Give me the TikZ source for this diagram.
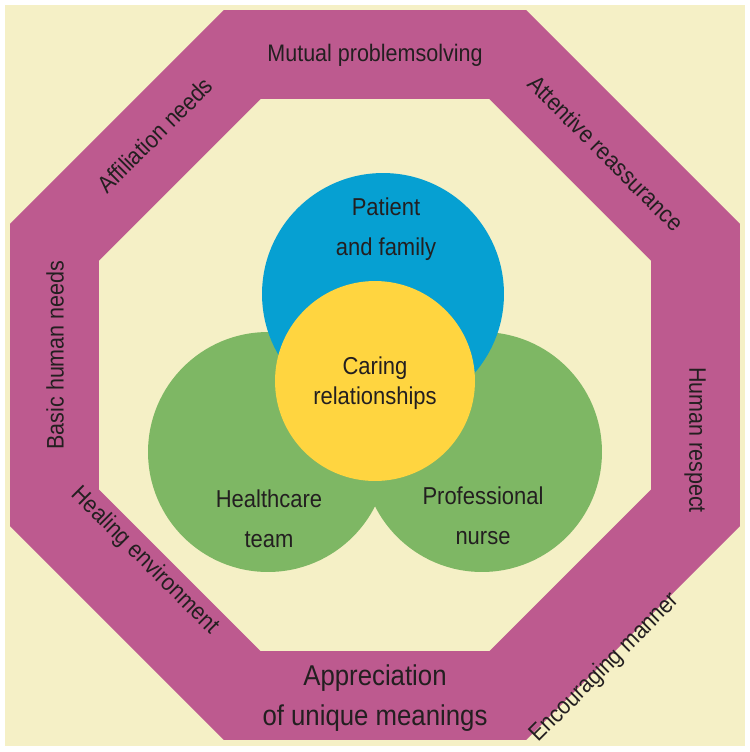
\documentclass[tikz,border=0pt]{standalone}
\usepackage{fontspec}
\setmainfont{Liberation Sans}[FakeStretch=0.9]
\usetikzlibrary{positioning}
\definecolor{cream}{HTML}{F5F0C6}
\definecolor{band}{HTML}{BD5A8F}
\definecolor{sky}{HTML}{06A0D2}
\definecolor{leaf}{HTML}{7EB764}
\definecolor{sun}{HTML}{FFD540}
\definecolor{ink}{HTML}{231F20}

\begin{document}
\begin{tikzpicture}[
  x=0.02cm, y=-0.02cm,
  blob/.style={circle, inner sep=0pt},
  ringtext/.style={text=ink, inner sep=0pt, font=\fontsize{13.6}{15}\selectfont},
  inside/.style={align=center, text=ink, inner sep=0pt, font=\fontsize{13.9}{22.7}\selectfont}
]
\useasboundingbox (0,0) rectangle (750,752);
\fill[white] (0,0) rectangle (750,752);
\fill[cream] (5,5) rectangle (745,746);
\begin{scope}[shift={(375,375)}]
  \fill[band] (22.5:395) -- (67.5:395) -- (112.5:395) -- (157.5:395) -- (202.5:395)
    -- (247.5:395) -- (292.5:395) -- (337.5:395) -- cycle;
  \fill[cream] (22.5:298.7) -- (67.5:298.7) -- (112.5:298.7) -- (157.5:298.7) -- (202.5:298.7)
    -- (247.5:298.7) -- (292.5:298.7) -- (337.5:298.7) -- cycle;
\end{scope}
\node[blob, fill=leaf, minimum size=4.8cm] (team) at (268,452) {};
\node[blob, fill=leaf, minimum size=4.8cm] (nurse) at (482,452) {};
\node[blob, fill=sky, minimum size=4.84cm] (patient) at (383,294) {};
\node[blob, fill=sun, minimum size=4.0cm] (caring) at (375,381) {};
\node[inside] (patientlbl) at (386,229) {Patient\\and family};
\node[inside, font=\fontsize{13.9}{17}\selectfont] (caringlbl) at (375,383) {Caring\\relationships};
\node[inside] (teamlbl) at (269,519) {Healthcare\\team};
\node[inside] (nurselbl) at (483,516) {Professional\\nurse};
\node[ringtext] (mutual) at (375,55) {Mutual problemsolving};
\node[ringtext, rotate=-45] (attentive) at (606,153) {Attentive reassurance};
\node[ringtext, rotate=-90] (respect) at (695,440) {Human respect};
\node[ringtext, rotate=45] (encourage) at (605,668) {Encouraging manner};
\node[inside, font=\fontsize{16.3}{22.7}\selectfont] (meanings) at (375,698) {Appreciation\\of unique meanings};
\node[ringtext, rotate=-45] (healing) at (145,561) {Healing environment};
\node[ringtext, rotate=90] (basic) at (55,355) {Basic human needs};
\node[ringtext, rotate=45] (affiliation) at (155,135) {Affiliation needs};
\end{tikzpicture}
\end{document}
